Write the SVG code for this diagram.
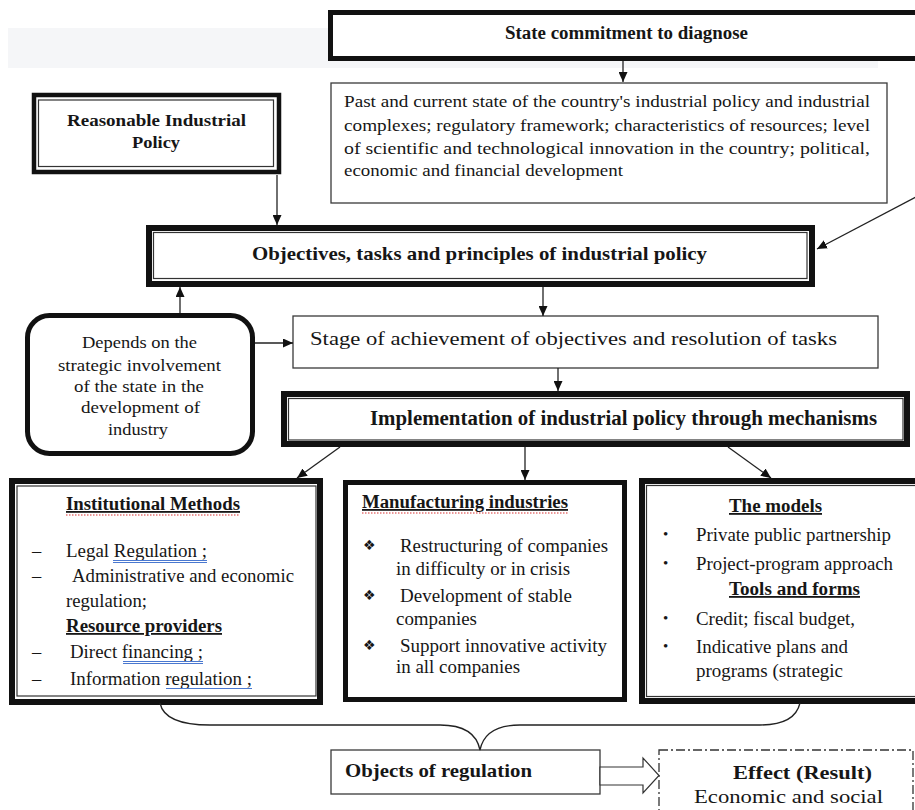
<svg xmlns="http://www.w3.org/2000/svg" width="915" height="810" viewBox="0 0 915 810">
<style>
text{font-family:"Liberation Serif","Times New Roman",serif;fill:#161616}
.b{font-weight:bold}
.u{text-decoration:underline}
.sym{font-family:"DejaVu Sans",sans-serif;font-size:14px}
.thin{fill:#fff;stroke:#3a3a3a;stroke-width:1.3}
.thick{fill:#fff;stroke:#111;stroke-width:6}
.inner{fill:none;stroke:#333;stroke-width:1.2}
.con{fill:none;stroke:#222;stroke-width:1.3}
.blue{stroke:#4a78d0;stroke-width:1;fill:none}
.red{stroke:#d83030;stroke-width:1.2;fill:none;stroke-dasharray:1.5 1.5}
</style>
<defs>
<marker id="ah" markerUnits="userSpaceOnUse" markerWidth="10" markerHeight="9" refX="10" refY="4.5" orient="auto">
<path d="M0,0 L10,4.5 L0,9 z" fill="#111"/>
</marker>
</defs>
<rect x="8" y="28" width="870" height="40" fill="#f5f6f8"/>

<g id="state">
<rect x="330.5" y="12.5" width="600" height="46" fill="#fff" stroke="#111" stroke-width="5"/>
<text class="b" x="505" y="39" font-size="18" textLength="243" lengthAdjust="spacingAndGlyphs">State commitment to diagnose</text>
</g>

<g id="past">
<rect class="thin" x="331" y="83" width="556" height="120"/>
<text x="344" y="107" font-size="17.5" textLength="526" lengthAdjust="spacingAndGlyphs">Past and current state of the country's industrial policy and industrial</text>
<text x="344" y="131" font-size="17.5" textLength="526" lengthAdjust="spacingAndGlyphs">complexes; regulatory framework; characteristics of resources; level</text>
<text x="344" y="154" font-size="17.5" textLength="526" lengthAdjust="spacingAndGlyphs">of scientific and technological innovation in the country; political,</text>
<text x="344" y="176" font-size="17.5" textLength="279" lengthAdjust="spacingAndGlyphs">economic and financial development</text>
</g>

<g id="reasonable">
<rect x="34" y="95" width="245" height="77" fill="#fff" stroke="#111" stroke-width="4.5"/>
<rect class="inner" x="38.5" y="100" width="235" height="66.5"/>
<text class="b" x="67" y="126" font-size="17.5" textLength="179" lengthAdjust="spacingAndGlyphs">Reasonable Industrial</text>
<text class="b" x="132" y="148" font-size="17.5" textLength="48" lengthAdjust="spacingAndGlyphs">Policy</text>
</g>

<g id="objectives">
<rect class="thick" x="149" y="228" width="663" height="56"/>
<rect class="inner" x="153.5" y="232.5" width="653.5" height="46"/>
<text class="b" x="252" y="260" font-size="19.5" textLength="455" lengthAdjust="spacingAndGlyphs">Objectives, tasks and principles of industrial policy</text>
</g>

<g id="depends">
<rect x="27.5" y="315.5" width="225" height="138" rx="22" fill="#fff" stroke="#111" stroke-width="5"/>
<text x="82" y="348" font-size="17.5" textLength="115" lengthAdjust="spacingAndGlyphs">Depends on the</text>
<text x="58" y="371" font-size="17.5" textLength="163" lengthAdjust="spacingAndGlyphs">strategic involvement</text>
<text x="74" y="392" font-size="17.5" textLength="130" lengthAdjust="spacingAndGlyphs">of the state in the</text>
<text x="81" y="413" font-size="17.5" textLength="119" lengthAdjust="spacingAndGlyphs">development of</text>
<text x="108" y="435" font-size="17.5" textLength="60" lengthAdjust="spacingAndGlyphs">industry</text>
</g>

<g id="stage">
<rect class="thin" x="293" y="316" width="585" height="52"/>
<text x="310" y="345" font-size="19.5" textLength="527" lengthAdjust="spacingAndGlyphs">Stage of achievement of objectives and resolution of tasks</text>
</g>

<g id="implementation">
<rect class="thick" x="284" y="394" width="623" height="50"/>
<rect class="inner" x="288.5" y="398.5" width="614.5" height="41.5"/>
<text class="b" x="370" y="425" font-size="20" textLength="507" lengthAdjust="spacingAndGlyphs">Implementation of industrial policy through mechanisms</text>
</g>

<g id="institutional">
<rect class="thick" x="12" y="481" width="308" height="221"/>
<rect class="inner" x="17" y="486" width="299" height="210"/>
<text class="b u" x="66" y="510" font-size="18" textLength="174" lengthAdjust="spacingAndGlyphs">Institutional Methods</text>
<path class="red" d="M66,515 H240"/>
<text x="32" y="557" font-size="18.5">–</text>
<text x="66" y="557" font-size="18.5" textLength="141" lengthAdjust="spacingAndGlyphs">Legal Regulation ;</text>
<path class="blue" d="M113,560.5 H207 M113,562.5 H207"/>
<text x="32" y="582" font-size="18.5">–</text>
<text x="72" y="582" font-size="18.5" textLength="222" lengthAdjust="spacingAndGlyphs">Administrative and economic</text>
<text x="66" y="607" font-size="18.5" textLength="81" lengthAdjust="spacingAndGlyphs">regulation;</text>
<text class="b u" x="66" y="632" font-size="18" textLength="156" lengthAdjust="spacingAndGlyphs">Resource providers</text>
<text x="32" y="658" font-size="18.5">–</text>
<text x="70" y="658" font-size="18.5" textLength="133" lengthAdjust="spacingAndGlyphs">Direct financing ;</text>
<path class="blue" d="M123,661.5 H203 M123,663.5 H203"/>
<text x="32" y="685" font-size="18.5">–</text>
<text x="70" y="685" font-size="18.5" textLength="182" lengthAdjust="spacingAndGlyphs">Information regulation ;</text>
<path class="blue" d="M166,688.5 H252"/>
</g>

<g id="manufacturing">
<rect x="345.5" y="482.5" width="279" height="217" fill="#fff" stroke="#111" stroke-width="5"/>
<text class="b u" x="362" y="508" font-size="18" textLength="206" lengthAdjust="spacingAndGlyphs">Manufacturing industries</text>
<path class="red" d="M362,513 H568"/>
<text class="sym" x="363" y="550">❖</text>
<text x="400" y="552" font-size="18.5" textLength="208" lengthAdjust="spacingAndGlyphs">Restructuring of companies</text>
<text x="396" y="575" font-size="18.5" textLength="174" lengthAdjust="spacingAndGlyphs">in difficulty or in crisis</text>
<text class="sym" x="363" y="600">❖</text>
<text x="400" y="602" font-size="18.5" textLength="172" lengthAdjust="spacingAndGlyphs">Development of stable</text>
<text x="396" y="625" font-size="18.5" textLength="81" lengthAdjust="spacingAndGlyphs">companies</text>
<text class="sym" x="363" y="650">❖</text>
<text x="400" y="652" font-size="18.5" textLength="207" lengthAdjust="spacingAndGlyphs">Support innovative activity</text>
<text x="396" y="673" font-size="18.5" textLength="124" lengthAdjust="spacingAndGlyphs">in all companies</text>
</g>

<g id="models">
<rect class="thick" x="642" y="481" width="300" height="220"/>
<rect class="inner" x="646.5" y="485.5" width="290" height="211"/>
<text class="b u" x="729" y="512" font-size="18" textLength="93" lengthAdjust="spacingAndGlyphs">The models</text>
<text x="663" y="539" font-size="15">•</text>
<text x="696" y="541" font-size="18.5" textLength="195" lengthAdjust="spacingAndGlyphs">Private public partnership</text>
<text x="663" y="568" font-size="15">•</text>
<text x="696" y="570" font-size="18.5" textLength="197" lengthAdjust="spacingAndGlyphs">Project-program approach</text>
<text class="b u" x="729" y="595" font-size="18" textLength="131" lengthAdjust="spacingAndGlyphs">Tools and forms</text>
<text x="663" y="623" font-size="15">•</text>
<text x="696" y="625" font-size="18.5" textLength="159" lengthAdjust="spacingAndGlyphs">Credit; fiscal budget,</text>
<text x="663" y="651" font-size="15">•</text>
<text x="696" y="653" font-size="18.5" textLength="152" lengthAdjust="spacingAndGlyphs">Indicative plans and</text>
<text x="696" y="677" font-size="18.5" textLength="147" lengthAdjust="spacingAndGlyphs">programs (strategic</text>
</g>

<g id="objects">
<rect class="thin" x="331" y="750" width="269" height="44"/>
<text class="b" x="345" y="777" font-size="19" textLength="187" lengthAdjust="spacingAndGlyphs">Objects of regulation</text>
</g>

<g id="effect">
<rect x="659" y="750" width="254" height="80" fill="#fff" stroke="#333" stroke-width="1.3" stroke-dasharray="9 3 2 3"/>
<text class="b" x="733" y="779" font-size="19" textLength="139" lengthAdjust="spacingAndGlyphs">Effect (Result)</text>
<text x="694" y="803" font-size="19.5" textLength="189" lengthAdjust="spacingAndGlyphs">Economic and social</text>
</g>

<g id="connectors">
<path class="con" marker-end="url(#ah)" d="M623,61 V82"/>
<path class="con" marker-end="url(#ah)" d="M277,175 V225"/>
<path class="con" marker-end="url(#ah)" d="M918,196 L817,249"/>
<path class="con" marker-end="url(#ah)" d="M543,287 V316"/>
<path class="con" marker-end="url(#ah)" d="M180,313 V287"/>
<path class="con" marker-end="url(#ah)" d="M255,343 H293"/>
<path class="con" marker-end="url(#ah)" d="M558,368 V391"/>
<path class="con" marker-end="url(#ah)" d="M340,447 L297,478"/>
<path class="con" marker-end="url(#ah)" d="M525,447 V480"/>
<path class="con" marker-end="url(#ah)" d="M728,447 L771,478"/>
<path class="con" d="M160,703 C163,718 180,725 210,725 L440,725 C465,725 477,735 480,750 C483,735 495,725 520,725 L760,725 C785,725 797,716 800,703"/>
<polygon points="600,767 643,767 643,758 659,775.5 643,793 643,785 600,785" fill="#fff" stroke="#333" stroke-width="1.2"/>
</g>
</svg>
